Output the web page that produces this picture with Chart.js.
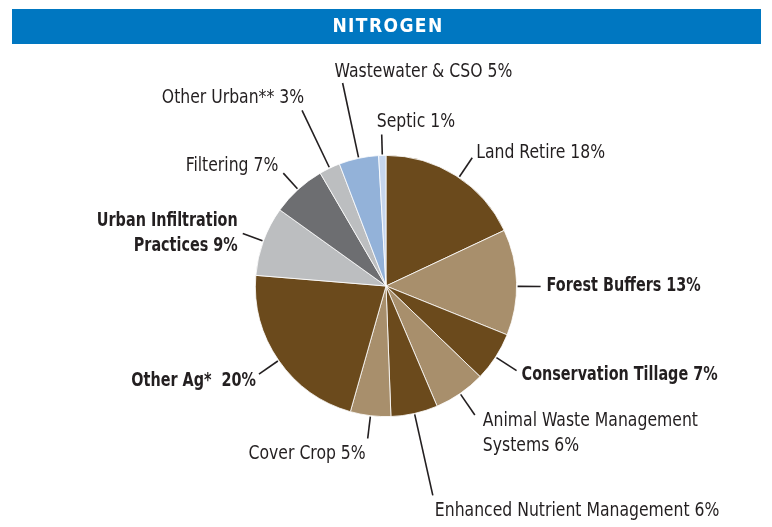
<!DOCTYPE html>
<html>
<head>
<meta charset="utf-8">
<script src="https://cdn.jsdelivr.net/npm/chart.js@4.4.1/dist/chart.umd.min.js"></script>
<style>
html,body{margin:0;padding:0;background:#fff;}
#wrap{width:772px;height:527px;position:relative;}
</style>
</head>
<body>
<div id="wrap"><canvas id="nitrogenChart"></canvas></div>
<script>
const chartTitle = 'NITROGEN';
const categories = ['Land Retire', 'Forest Buffers', 'Conservation Tillage', 'Animal Waste Management\nSystems',
  'Enhanced Nutrient Management', 'Cover Crop', 'Other Ag* ', 'Urban Infiltration\nPractices',
  'Filtering', 'Other Urban**', 'Wastewater & CSO', 'Septic'];
const shares = [18.0, 13.1, 6.1, 6.4, 5.8, 5.0, 21.9, 8.6, 6.7, 2.6, 4.9, 0.9];
const shareLabels = ['18%', '13%', '7%', '6%', '6%', '5%', '20%', '9%', '7%', '3%', '5%', '1%'];
const boldLabels = [false, true, true, false, false, false, true, true, false, false, false, false];

const BROWN = '#6b4a1c', TAN = '#a88f6c', LGRAY = '#bcbec0', DGRAY = '#6d6e71';
const sliceColors = [BROWN, TAN, BROWN, TAN, BROWN, TAN, BROWN, LGRAY, DGRAY, LGRAY, '#93b2d9', '#c6d6ee'];

// label placement: leader length past the rim, text side, offset from leader end
const labelLayout = [
  {len: 24, align: 'left',  dx: 4,  dy: -5,   rot: 1.5},
  {len: 24, align: 'left',  dx: 6,  dy: -1,   rot: 1.8},
  {len: 25, align: 'left',  dx: 5,  dy: 4},
  {len: 26, align: 'left',  dx: 8,  dy: 5.5},
  {len: 84, align: 'left',  dx: 2,  dy: 15.5},
  {len: 23, align: 'right', dx: -2, dy: 15},
  {len: 24, align: 'right', dx: -3, dy: 6.7},
  {len: 22, align: 'right', dx: -5, dy: -12.5},
  {len: 22, align: 'right', dx: -5, dy: -7.5},
  {len: 64, align: 'right', dx: 2,  dy: -12.5},
  {len: 77, align: 'left',  dx: -8, dy: -11.5},
  {len: 21, align: 'left',  dx: -5, dy: -12.5}
];
const FONT = '"Liberation Sans Narrow", "DejaVu Sans Condensed", "Arial Narrow", sans-serif';
const TEXT = '#231f20';

const titleBar = {
  id: 'titleBar',
  beforeDraw(chart) {
    const ctx = chart.ctx;
    ctx.save();
    ctx.fillStyle = '#0077c1';
    ctx.fillRect(12, 9, 749, 35);
    ctx.fillStyle = '#fff';
    ctx.font = 'bold 19px ' + FONT;
    ctx.letterSpacing = '1.4px';
    ctx.textAlign = 'center';
    ctx.textBaseline = 'middle';
    ctx.fillText(chartTitle, 388, 27);
    ctx.restore();
  }
};

const sliceLabels = {
  id: 'sliceLabels',
  afterDatasetsDraw(chart) {
    const ctx = chart.ctx;
    const arcs = chart.getDatasetMeta(0).data;
    ctx.save();
    arcs.forEach(function(arc, i) {
      const lay = labelLayout[i];
      const a = (arc.startAngle + arc.endAngle) / 2 + (lay.rot || 0) * Math.PI / 180;
      const r0 = arc.outerRadius + 1, r1 = arc.outerRadius + lay.len;
      const x0 = arc.x + Math.cos(a) * r0, y0 = arc.y + Math.sin(a) * r0;
      const x1 = arc.x + Math.cos(a) * r1, y1 = arc.y + Math.sin(a) * r1;
      ctx.strokeStyle = TEXT;
      ctx.lineWidth = 1.6;
      ctx.beginPath();
      ctx.moveTo(x0, y0);
      ctx.lineTo(x1, y1);
      ctx.stroke();

      // narrow the font horizontally to get the condensed look
      const lines = (categories[i] + ' ' + shareLabels[i]).split('\n');
      const sx = boldLabels[i] ? 0.8 : 0.87;
      ctx.font = (boldLabels[i] ? 'bold ' : '') + '20px ' + FONT;
      ctx.fillStyle = TEXT;
      ctx.textAlign = lay.align;
      ctx.textBaseline = 'middle';
      lines.forEach(function(t, k) {
        ctx.save();
        ctx.translate(x1 + lay.dx, y1 + lay.dy + k * 25);
        ctx.scale(sx, 1);
        ctx.fillText(t, 0, 0);
        ctx.restore();
      });
    });
    ctx.restore();
  }
};

new Chart(document.getElementById('nitrogenChart'), {
  type: 'pie',
  data: {
    labels: categories,
    datasets: [{
      data: shares,
      backgroundColor: sliceColors,
      borderColor: '#ffffff',
      borderWidth: 0.8
    }]
  },
  options: {
    responsive: true,
    maintainAspectRatio: false,
    animation: false,
    layout: { padding: { top: 155, bottom: 110, left: 0, right: 0 } },
    plugins: { legend: { display: false }, tooltip: { enabled: false } }
  },
  plugins: [titleBar, sliceLabels]
});
</script>
</body>
</html>
